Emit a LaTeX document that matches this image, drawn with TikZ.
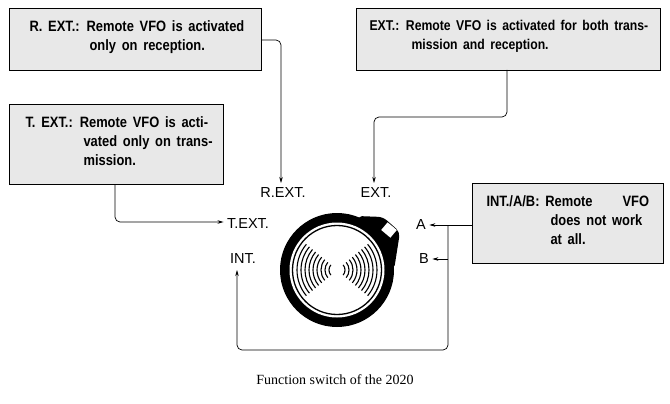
\documentclass[tikz,border=0pt]{standalone}
\usepackage{fontspec}
\setmainfont{Liberation Serif}
\newfontfamily\cond{Liberation Sans}[FakeStretch=0.86,WordSpace={1.6,1,0}]
\newfontfamily\lab{Liberation Sans}
\usetikzlibrary{arrows.meta,calc}
\begin{document}
\begin{tikzpicture}[x=1pt,y=-1pt,
  box/.style={draw,line width=1.2pt,fill=black!9,inner sep=0pt},
  btxt/.style={font=\cond\bfseries\fontsize{15}{19}\selectfont,align=left},
  lbl/.style={font=\lab\fontsize{14.5}{15}\selectfont},
  con/.style={line width=0.7pt,rounded corners=5pt,-{Stealth[length=6pt,width=3.5pt]}}]
\useasboundingbox (0,0) rectangle (670,404);
% boxes
\node[box,minimum width=252,minimum height=62,anchor=north west] (b1) at (9,8) {};
\node[btxt,anchor=north west] at (26,17) {R. EXT.: Remote VFO is activated\\\hspace{60pt}only on reception.};
\node[box,minimum width=304,minimum height=62,anchor=north west] (b2) at (356,8) {};
\node[btxt,anchor=north west,font=\cond\bfseries\fontsize{14.2}{19}\selectfont] at (366,17) {EXT.: Remote VFO is activated for both trans-\\\hspace{42pt}mission and reception.};
\node[box,minimum width=214,minimum height=80,anchor=north west] (b3) at (9,104) {};
\node[btxt,anchor=north west] at (22,113) {T. EXT.: Remote VFO is acti-\\\hspace{58pt}vated only on trans-\\\hspace{58pt}mission.};
\node[box,minimum width=191,minimum height=80,anchor=north west] (b4) at (472,183) {};
\node[btxt,anchor=north west] at (483,192) {INT./A/B: Remote\hspace{30pt}VFO\\\hspace{64pt}does not work\\\hspace{64pt}at all.};
% labels
\node[lbl] (rext) at (283,193) {R.EXT.};
\node[lbl] (ext) at (376,193) {EXT.};
\node[lbl] (text) at (248,224) {T.EXT.};
\node[lbl] (int) at (243,259) {INT.};
\node[lbl] (a) at (421,225) {A};
\node[lbl] (b) at (424,259) {B};
% connectors
\draw[con] (b1.east|-0,40) -- (281,40) -- (281,183);
\draw[con] (507,70) -- (507,117) -- (374,117) -- (374,183);
\draw[con] (115,184) -- (115,222) -- (text.west|-0,222);
\coordinate (j) at (448,225);
\coordinate (jb) at (448,259);
\draw[con] (b4.west|-0,225) -- (a.east|-0,225);
\draw[con] (jb) -- (b.east|-0,259);
\draw[con] (j) -- (448,350) -- (237,350) -- (237,270);
% knob
\coordinate (c) at (337,270);
\fill (c) circle (57);
\fill[rounded corners=5pt] ($(c)+(57,0)$) -- ($(c)+(63,-38)$) -- ($(c)+(46,-53)$) -- ($(c)+(20,-54)$) -- cycle;
\fill[white,rotate around={-40:(389,230)}] (383,225) rectangle (395,235);
\fill[white] (c) circle (47.5);
\draw[line width=1.3pt] (c) circle (44.5);
\foreach \r in {8,12,...,40}{
  \draw[line width=1.1pt] ($(c)+(140:\r)$) arc (140:220:\r);
  \draw[line width=1.1pt] ($(c)+(-40:\r)$) arc (-40:40:\r);
}
% caption
\node[font=\fontsize{14}{16}\selectfont] (cap) at (335,380) {Function switch of the 2020};
\end{tikzpicture}
\end{document}
